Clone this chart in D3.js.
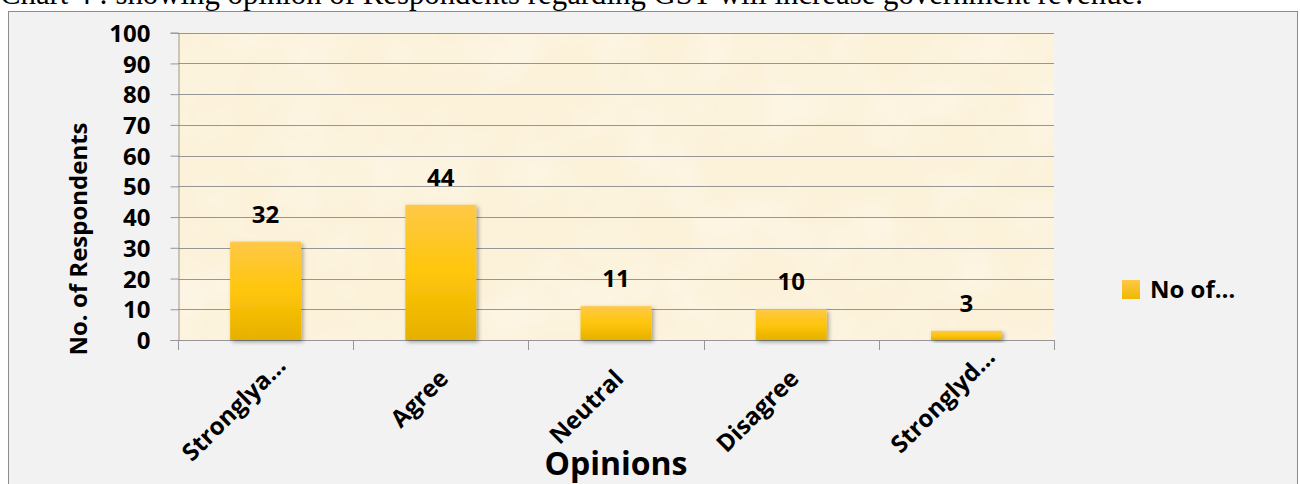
<!DOCTYPE html>
<html>
<head>
<meta charset="utf-8">
<script src="https://cdn.jsdelivr.net/npm/d3@7"></script>
<style>
  html, body { margin: 0; padding: 0; background: #fff; }
  svg { display: block; }
  text { font-family: "Open Sans", Lato, sans-serif; font-weight: bold; fill: #000; }
</style>
</head>
<body>
<div id="chart"></div>
<script>
// chart data
var categories = ['Stronglya\u2026', 'Agree', 'Neutral', 'Disagree', 'Stronglyd\u2026'];
var respondents = [32, 44, 11, 10, 3];
var yTicks = [0, 10, 20, 30, 40, 50, 60, 70, 80, 90, 100];
var seriesName = 'No of\u2026';
var titleText = 'Chart 4 : showing opinion of Respondents regarding GST will increase government revenue.';

var width = 1300, height = 484;
var plot = { left: 178, right: 1054, top: 32.7, bottom: 340 };

var svg = d3.select('#chart').append('svg')
  .attr('width', width)
  .attr('height', height);

var defs = svg.append('defs');

var grad = defs.append('linearGradient')
  .attr('id', 'barFill')
  .attr('x1', 0).attr('y1', 0).attr('x2', 0).attr('y2', 1);
grad.append('stop').attr('offset', '0%').attr('stop-color', '#ffc847');
grad.append('stop').attr('offset', '50%').attr('stop-color', '#ffc60a');
grad.append('stop').attr('offset', '100%').attr('stop-color', '#e6b000');

var legGrad = defs.append('linearGradient')
  .attr('id', 'legFill')
  .attr('x1', 0).attr('y1', 0).attr('x2', 0).attr('y2', 1);
legGrad.append('stop').attr('offset', '0%').attr('stop-color', '#ffc847');
legGrad.append('stop').attr('offset', '100%').attr('stop-color', '#f0b800');

var shadow = defs.append('filter').attr('id', 'barShadow')
  .attr('x', '-20%').attr('y', '-20%').attr('width', '150%').attr('height', '150%');
shadow.append('feDropShadow')
  .attr('dx', 2).attr('dy', 2).attr('stdDeviation', 2)
  .attr('flood-color', '#000').attr('flood-opacity', 0.35);

// parchment texture for the plot area
var paper = defs.append('filter').attr('id', 'paper')
  .attr('x', 0).attr('y', 0).attr('width', '100%').attr('height', '100%');
paper.append('feTurbulence')
  .attr('type', 'fractalNoise').attr('baseFrequency', 0.015)
  .attr('numOctaves', 3).attr('seed', 7).attr('result', 'noise');
paper.append('feColorMatrix')
  .attr('in', 'noise').attr('type', 'matrix')
  .attr('values', '0 0 0 0 0.985  0 0 0 0 0.93  0 0 0 0 0.82  0 0 0 -1.4 0.85')
  .attr('result', 'tint');
paper.append('feComposite').attr('in', 'tint').attr('in2', 'SourceGraphic').attr('operator', 'over');

// title (partly cut off at top of the picture, as in the source)
svg.append('text')
  .attr('x', 0).attr('y', 4)
  .style('font-family', '"Liberation Serif", "Times New Roman", serif')
  .style('font-weight', 'normal')
  .style('font-size', '30.8px')
  .text(titleText);

// chart frame
svg.append('rect')
  .attr('x', 8.5).attr('y', 11.5)
  .attr('width', 1289).attr('height', 480)
  .attr('fill', '#f2f2f2')
  .attr('stroke', '#8c8c8c');

var x = d3.scaleBand()
  .domain(categories)
  .range([plot.left, plot.right])
  .paddingInner(0.595)
  .paddingOuter(0.2975);

var y = d3.scaleLinear()
  .domain([0, 100])
  .range([plot.bottom, plot.top]);

// plot area
svg.append('rect')
  .attr('x', plot.left).attr('y', plot.top)
  .attr('width', plot.right - plot.left).attr('height', plot.bottom - plot.top)
  .attr('fill', '#fcf2da')
  .attr('filter', 'url(#paper)');

// gridlines
svg.append('g')
  .selectAll('line')
  .data(yTicks.filter(function(d) { return d > 0; }))
  .enter().append('line')
  .attr('x1', plot.left).attr('x2', plot.right)
  .attr('y1', function(d) { return Math.round(y(d)) + 0.5; })
  .attr('y2', function(d) { return Math.round(y(d)) + 0.5; })
  .attr('stroke', '#969696');

// y axis
var yAxis = svg.append('g')
  .attr('transform', 'translate(' + (plot.left + 0.5) + ',0)')
  .call(d3.axisLeft(y).tickValues(yTicks).tickSize(8).tickPadding(20));
yAxis.select('.domain').attr('stroke', '#969696');
yAxis.selectAll('.tick line').attr('stroke', '#969696');
yAxis.selectAll('.tick text')
  .style('font-size', '24px')
  .attr('dy', '0.36em');

// x axis: ticks at category boundaries
var boundaries = categories.map(function(c) { return x(c) - x.step() * x.paddingInner() / 2; });
boundaries.push(plot.right);
svg.append('line')
  .attr('x1', plot.left).attr('x2', plot.right)
  .attr('y1', plot.bottom + 0.5).attr('y2', plot.bottom + 0.5)
  .attr('stroke', '#969696');
svg.append('g')
  .selectAll('line')
  .data(boundaries)
  .enter().append('line')
  .attr('x1', function(d) { return Math.round(d) + 0.5; })
  .attr('x2', function(d) { return Math.round(d) + 0.5; })
  .attr('y1', plot.bottom).attr('y2', plot.bottom + 10)
  .attr('stroke', '#969696');

// bars
svg.append('g')
  .selectAll('rect')
  .data(respondents)
  .enter().append('rect')
  .attr('x', function(d, i) { return x(categories[i]); })
  .attr('y', function(d) { return y(d); })
  .attr('width', x.bandwidth())
  .attr('height', function(d) { return y(0) - y(d); })
  .attr('fill', 'url(#barFill)')
  .attr('filter', 'url(#barShadow)');

// data labels
svg.append('g')
  .selectAll('text')
  .data(respondents)
  .enter().append('text')
  .attr('x', function(d, i) { return x(categories[i]) + x.bandwidth() / 2; })
  .attr('y', function(d) { return y(d) - 19; })
  .attr('text-anchor', 'middle')
  .style('font-size', '24px')
  .text(function(d) { return d; });

// category labels, rotated; truncated ones sit a bit further along
svg.append('g')
  .selectAll('text')
  .data(categories)
  .enter().append('text')
  .attr('transform', function(d) {
    var cx = x(d) + x.bandwidth() / 2;
    var shift = d.indexOf('\u2026') >= 0 ? (d.charAt(8) === 'd' ? 30 : 18) : 0;
    return 'translate(' + (cx + 9 + shift * 0.707) + ',' + (380 - shift * 0.707) + ') rotate(-45)';
  })
  .attr('text-anchor', 'end')
  .style('font-size', '24px')
  .text(function(d) { return d; });

// axis titles
svg.append('text')
  .attr('transform', 'translate(87,239) rotate(-90)')
  .attr('text-anchor', 'middle')
  .style('font-size', '24px')
  .text('No. of Respondents');

svg.append('text')
  .attr('x', 616).attr('y', 475)
  .attr('text-anchor', 'middle')
  .style('font-size', '32px')
  .text('Opinions');

// legend
var legend = svg.append('g').attr('transform', 'translate(1122,280)');
legend.append('rect')
  .attr('width', 18).attr('height', 19)
  .attr('fill', 'url(#legFill)');
legend.append('text')
  .attr('x', 28).attr('y', 18)
  .style('font-size', '24px')
  .text(seriesName);
</script>
</body>
</html>
